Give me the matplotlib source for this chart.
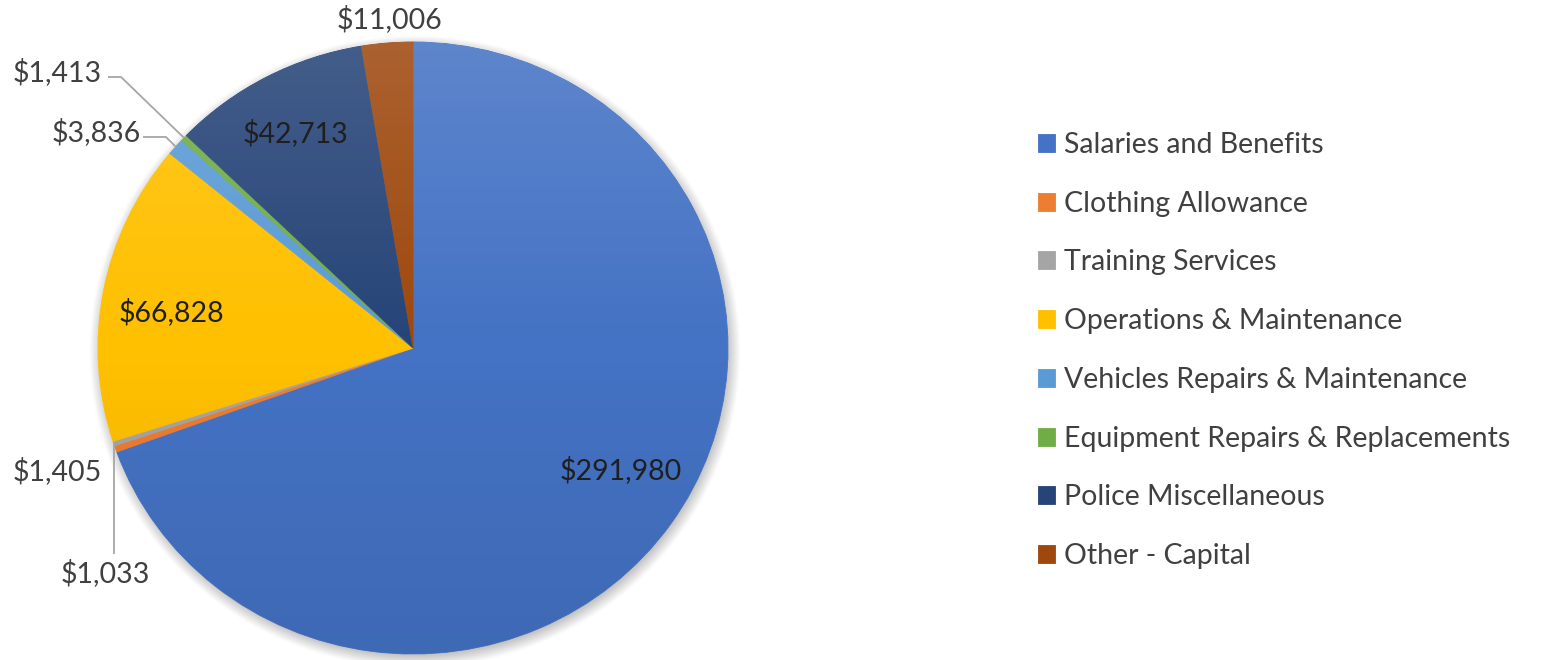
import numpy as np
import matplotlib.pyplot as plt
from matplotlib.patches import Circle

plt.rcParams['font.family'] = ['Lato', 'DejaVu Sans']

categories = ["Salaries and Benefits", "Clothing Allowance", "Training Services",
              "Operations & Maintenance", "Vehicles Repairs & Maintenance",
              "Equipment Repairs & Replacements", "Police Miscellaneous", "Other - Capital"]
amounts = [291980, 1405, 1033, 66828, 3836, 1413, 42713, 11006]
colors = ["#4472C4", "#ED7D31", "#A5A5A5", "#FFC000", "#5B9BD5", "#70AD47", "#264478", "#9E480E"]

# pixel layout of the pie (image coords, y down)
W, H = 1566, 660
CX, CY = 413, 348
RX, RY = 315, 306
PIE_W = 900
FS = 20.5


def px(x, y):
    # image pixel -> pie data coords
    return (x - CX) / RX, (CY - y) / RY


fig = plt.figure(figsize=(W / 100, H / 100), dpi=100)
ax = fig.add_axes([0, 0, PIE_W / W, 1])

# soft drop shadow under the pie
xs = np.linspace(-CX / RX, (PIE_W - CX) / RX, 600)
ys = np.linspace(-(H - CY) / RY, CY / RY, 440)
gx, gy = np.meshgrid(xs, ys)
rho = np.hypot(gx - 0.006, gy + 0.012)
shade = np.clip((1.035 - rho) / 0.045, 0, 1)
shadow = np.zeros(gx.shape + (4,))
shadow[..., :3] = 0.45
shadow[..., 3] = 0.45 * shade
ax.imshow(shadow, extent=[xs[0], xs[-1], ys[0], ys[-1]], origin='lower',
          aspect='auto', zorder=0, interpolation='bilinear')

wedges, _ = ax.pie(amounts, colors=colors, startangle=90, counterclock=False,
                   radius=1, center=(0, 0),
                   wedgeprops=dict(linewidth=0.6, zorder=1))
for w in wedges:
    w.set_edgecolor(w.get_facecolor())

# light-to-dark vertical gradient over the slices
t = np.linspace(0, 1, 200)[:, None, None]   # 0 bottom, 1 top
grad = np.zeros((200, 2, 4))
grad[..., :3] = np.where(t > 0.5, 1.0, 0.0)
grad[..., 3] = np.where(t > 0.5, (t - 0.5) * 0.28, (0.5 - t) * 0.16)[..., 0]
im = ax.imshow(grad, extent=[-1, 1, -1, 1], origin='lower', aspect='auto',
               zorder=2, interpolation='bilinear')
im.set_clip_path(Circle((0, 0), 1, transform=ax.transData))

ax.set_aspect('auto')
ax.set_xlim(-CX / RX, (PIE_W - CX) / RX)
ax.set_ylim(-(H - CY) / RY, CY / RY)
ax.axis('off')

labels = ["${:,}".format(v) for v in amounts]
label_px = [(621, 470), (57, 471), (105, 573), (171, 312),
            (96, 132), (57, 72), (296, 133), (390, 19)]
inside = [True, False, False, True, False, False, True, False]
for lab, (lx, ly), ins in zip(labels, label_px, inside):
    ax.text(*px(lx, ly), lab, fontsize=FS, ha='center', va='center',
            color='#1F1F1F' if ins else '#404040', zorder=5)


def edge_point(i):
    w = wedges[i]
    a = np.deg2rad((w.theta1 + w.theta2) / 2)
    return np.cos(a), np.sin(a)


# leader lines for the thin slices
line_kw = dict(color='#A6A6A6', lw=1.3, zorder=4, solid_capstyle='butt')
ex, ey = edge_point(5)
p0, p1 = px(108, 77), px(121, 77)
ax.plot([p0[0], p1[0], ex], [p0[1], p1[1], ey], **line_kw)
ex, ey = edge_point(4)
p0, p1 = px(143, 137), px(166, 137)
ax.plot([p0[0], p1[0], ex], [p0[1], p1[1], ey], **line_kw)
ex, ey = edge_point(2)
p0 = px(0, 554)
ax.plot([ex, ex], [p0[1], ey], **line_kw)

fig.legend(wedges, categories, loc='upper left', bbox_to_anchor=(1038 / W, 1 - 132 / H),
           frameon=False, fontsize=FS, labelcolor='#404040',
           handlelength=0.6, handleheight=0.6, handletextpad=0.32,
           labelspacing=1.15, borderpad=0, borderaxespad=0)

fig.savefig("out.png", dpi=100, facecolor='white')
